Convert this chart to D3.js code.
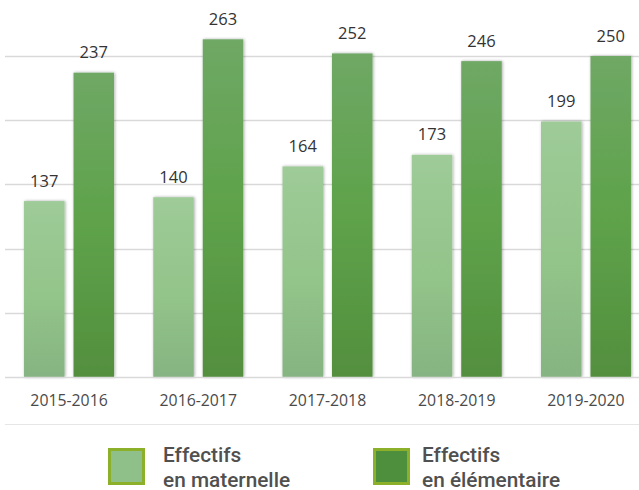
<!DOCTYPE html>
<html><head><meta charset="utf-8">
<script src="https://cdn.jsdelivr.net/npm/d3@7"></script>
<style>html,body{margin:0;padding:0;background:#fff;}svg{display:block;}</style>
</head><body>
<script>
const categories = ["2015-2016","2016-2017","2017-2018","2018-2019","2019-2020"];
const seriesNames = ["Effectifs en maternelle","Effectifs en élémentaire"];
const maternelle = [137,140,164,173,199];
const elementaire = [237,263,252,246,250];
const yTicks = [0,50,100,150,200,250];
const legendLines = [["Effectifs","en maternelle"],["Effectifs","en élémentaire"]];

const W=639,H=490;
const svg=d3.select("body").append("svg").attr("width",W).attr("height",H);
const defs=svg.append("defs");
const f=defs.append("filter").attr("id","sh").attr("x","-30%").attr("y","-10%").attr("width","160%").attr("height","120%");
f.append("feDropShadow").attr("dx",0.8).attr("dy",0).attr("stdDeviation",1.6).attr("flood-color","#000").attr("flood-opacity",0.35);
const g1=defs.append("linearGradient").attr("id","gm").attr("x1",0).attr("y1",0).attr("x2",0).attr("y2",1);
g1.append("stop").attr("offset","0%").attr("stop-color","#9ecb98");
g1.append("stop").attr("offset","55%").attr("stop-color","#93c489");
g1.append("stop").attr("offset","100%").attr("stop-color","#86b482");
const g2=defs.append("linearGradient").attr("id","ge").attr("x1",0).attr("y1",0).attr("x2",0).attr("y2",1);
g2.append("stop").attr("offset","0%").attr("stop-color","#6fa865");
g2.append("stop").attr("offset","50%").attr("stop-color","#5ea24a");
g2.append("stop").attr("offset","100%").attr("stop-color","#538f3e");

const y=d3.scaleLinear().domain([0,250]).range([377,56]);
const x0=d3.scaleBand().domain(categories).range([4.4,650.6]).paddingInner(0.3037).paddingOuter(0.15185);
const x1=d3.scaleBand().domain([0,1]).range([0,x0.bandwidth()]).paddingInner(0.1818);

// gridlines
svg.append("g").selectAll("line").data(yTicks.slice(1)).join("line")
  .attr("x1",5).attr("x2",W).attr("y1",d=>Math.round(y(d))+0.5).attr("y2",d=>Math.round(y(d))+0.5)
  .attr("stroke","#d9d9d9").attr("stroke-width",1.3);

const data=categories.map((c,i)=>({c,vals:[maternelle[i],elementaire[i]]}));
const fills=["url(#gm)","url(#ge)"];
const grp=svg.append("g").selectAll("g").data(data).join("g").attr("transform",d=>`translate(${x0(d.c)},0)`);
grp.selectAll("rect").data(d=>d.vals.map((v,k)=>({v,k}))).join("rect")
  .attr("x",d=>x1(d.k)).attr("width",x1.bandwidth())
  .attr("y",d=>y(d.v)).attr("height",d=>y(0)-y(d.v))
  .attr("fill",d=>fills[d.k]).attr("filter","url(#sh)");
grp.selectAll("text").data(d=>d.vals.map((v,k)=>({v,k}))).join("text")
  .attr("x",d=>x1(d.k)+x1.bandwidth()/2).attr("y",d=>y(d.v)-14.5)
  .attr("text-anchor","middle").attr("font-family","Open Sans, sans-serif").attr("font-size",16.5)
  .attr("fill","#333").text(d=>d.v);

// baseline axis
const xAxis=d3.axisBottom(x0).tickSize(0).tickPadding(0);
const ax=svg.append("g").attr("transform",`translate(0,${y(0)})`).call(xAxis);
ax.select(".domain").remove();
ax.append("line").attr("x1",5).attr("x2",W).attr("y1",0.5).attr("y2",0.5).attr("stroke","#d9d9d9").attr("stroke-width",1.3);
ax.selectAll(".tick text").attr("y",29).attr("dy",0).attr("font-family","Open Sans, sans-serif").attr("font-size",15.8).attr("fill","#4a4a4a");

// separator
svg.append("line").attr("x1",5).attr("x2",W).attr("y1",424.5).attr("y2",424.5).attr("stroke","#e6e6e6").attr("stroke-width",1);

// legend
const legX=[108,373];
const legTextDx=[55,49];
const legFill=["#8fc08a","#4e8f3d"];
const lg=svg.append("g").selectAll("g").data(seriesNames).join("g").attr("transform",(d,i)=>`translate(${legX[i]},0)`);
lg.append("rect").attr("x",1.5).attr("y",449.5).attr("width",34).attr("height",34)
  .attr("fill",(d,i)=>legFill[i]).attr("stroke","#8cb02a").attr("stroke-width",3);
lg.each(function(d,i){
  const t=d3.select(this).append("text").attr("font-family","Roboto, sans-serif").attr("font-weight",500)
    .attr("font-size",20.8).attr("fill","#505050");
  legendLines[i].forEach((s,j)=>t.append("tspan").attr("x",legTextDx[i]).attr("y",462+j*24.5).text(s));
});
</script>
</body></html>
